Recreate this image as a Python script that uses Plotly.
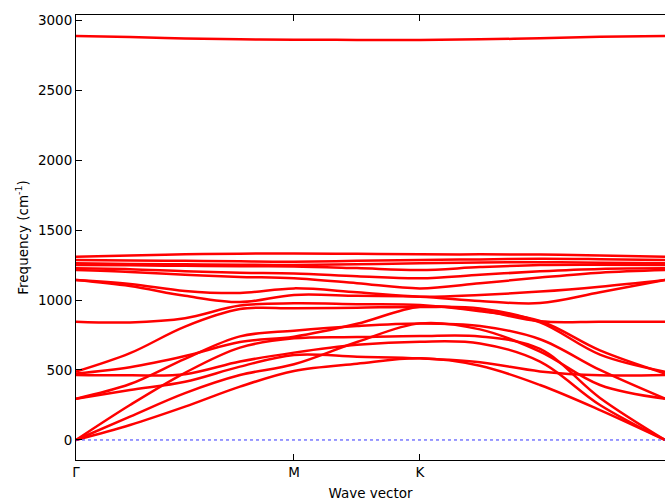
import plotly.graph_objects as go

# k-path sample positions (fraction of path length): Γ ... M ... K ... Γ
q_positions = [0.0, 0.0917, 0.1851, 0.2784, 0.3701, 0.4771, 0.5840, 0.6859, 0.7878, 0.8896, 1.0]
tick_positions = [0.0, 0.3701, 0.5840, 1.0]
tick_labels = ["Γ", "M", "K", ""]
y_ticks = [0, 500, 1000, 1500, 2000, 2500, 3000]

band_01 = [0, 107, 238, 381, 493, 545, 583, 530, 393, 214, 0]
band_02 = [0, 167, 335, 464, 541, 700, 833, 790, 631, 393, 295]
band_03 = [0, 250, 480, 660, 726, 735, 743, 740, 650, 300, 0]
band_04 = [295, 400, 580, 740, 781, 815, 833, 815, 720, 500, 295]
band_05 = [295, 357, 416, 524, 607, 595, 583, 555, 490, 462, 464]
band_06 = [464, 462, 470, 560, 624, 680, 702, 690, 560, 250, 0]
band_07 = [475, 520, 600, 700, 738, 830, 952, 925, 848, 845, 845]
band_08 = [488, 620, 810, 935, 941, 945, 950, 940, 840, 610, 488]
band_09 = [845, 840, 870, 960, 976, 970, 964, 920, 850, 640, 475]
band_10 = [1143, 1100, 1030, 985, 1036, 1030, 1024, 993, 978, 1055, 1143]
band_11 = [1143, 1115, 1065, 1050, 1083, 1055, 1024, 1036, 1060, 1095, 1143]
band_12 = [1214, 1200, 1180, 1165, 1155, 1120, 1083, 1120, 1160, 1195, 1214]
band_13 = [1226, 1220, 1205, 1195, 1190, 1170, 1155, 1180, 1205, 1222, 1226]
band_14 = [1250, 1248, 1244, 1241, 1240, 1228, 1214, 1235, 1250, 1252, 1250]
band_15 = [1262, 1258, 1255, 1252, 1250, 1256, 1262, 1268, 1270, 1266, 1262]
band_16 = [1286, 1283, 1280, 1276, 1274, 1280, 1286, 1290, 1295, 1292, 1286]
band_17 = [1309, 1318, 1326, 1331, 1333, 1330, 1326, 1326, 1325, 1318, 1309]
band_18 = [2886, 2878, 2868, 2862, 2860, 2858, 2858, 2862, 2870, 2880, 2886]

bands = [band_01, band_02, band_03, band_04, band_05, band_06, band_07, band_08, band_09,
         band_10, band_11, band_12, band_13, band_14, band_15, band_16, band_17, band_18]

fig = go.Figure()
for b in bands:
    fig.add_trace(go.Scatter(x=q_positions, y=b, mode="lines",
                             line=dict(color="#ff0000", width=2.5, shape="spline", smoothing=1.0),
                             showlegend=False, hoverinfo="skip"))

fig.add_trace(go.Scatter(x=[0, 1], y=[0, 0], mode="lines",
                         line=dict(color="#3333ff", width=1, dash="dot"),
                         showlegend=False, hoverinfo="skip"))

font_family = "DejaVu Sans"
fig.update_layout(
    width=665, height=502,
    margin=dict(l=76, r=0, t=15, b=42, autoexpand=False),
    paper_bgcolor="white", plot_bgcolor="white",
    font=dict(family=font_family, size=13.5, color="black"),
    xaxis=dict(range=[0, 1], tickmode="array", tickvals=tick_positions, ticktext=tick_labels,
               ticks="inside", ticklen=6, tickcolor="black", showline=True, linecolor="black",
               linewidth=1, mirror="ticks", showgrid=False, zeroline=False, automargin=False,
               title=dict(text="Wave vector", standoff=9, font=dict(size=13.5))),
    yaxis=dict(range=[-143, 3036], tickmode="array", tickvals=y_ticks,
               ticks="inside", ticklen=6, tickcolor="black", showline=True, linecolor="black",
               linewidth=1, showgrid=False, zeroline=False, automargin=False,
               title=dict(text="Frequency (cm<sup>-1</sup>)", standoff=6, font=dict(size=13.5))),
)

post_js = "document.body.style.margin='0';document.body.style.overflow='hidden';"
fig.write_html("out.html", config={"responsive": False, "displayModeBar": False}, post_script=post_js)
